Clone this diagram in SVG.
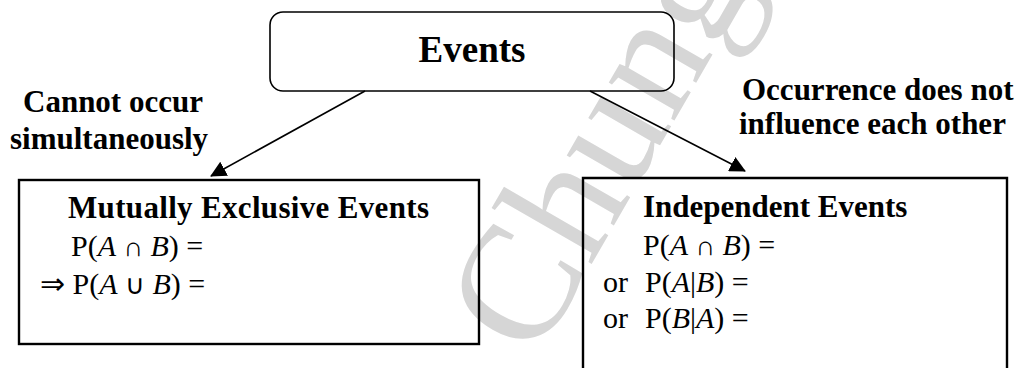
<svg xmlns="http://www.w3.org/2000/svg" width="1021" height="368" viewBox="0 0 1021 368">
<style>
.box{fill:none;stroke:#000;stroke-width:2.4}
.rbox{fill:none;stroke:#000;stroke-width:1.6}
.lbl{font-family:"Liberation Serif","Times New Roman",serif;font-weight:bold;font-size:31px;fill:#000}
.math{font-family:"Liberation Serif","Times New Roman",serif;font-size:30px;fill:#000}
.it{font-style:italic}
.op{font-size:27px}
.wm{font-family:"Liberation Serif","Times New Roman",serif;font-size:165px;fill:#d6d6d6}
.conn{stroke:#000;stroke-width:1.6;fill:none}
</style>
<defs>
<marker id="ah" markerWidth="16" markerHeight="16" refX="15" refY="8" orient="auto" markerUnits="userSpaceOnUse">
<path d="M0,0 L16,8 L0,16 Z" fill="#000"/>
</marker>
</defs>
<rect width="1021" height="368" fill="#fff"/>
<text class="wm" x="535" y="362" transform="rotate(-60 535 362)">Chung</text>
<g id="connectors">
<line class="conn" x1="365" y1="91" x2="211" y2="176" marker-end="url(#ah)"/>
<line class="conn" x1="590" y1="91" x2="745" y2="171" marker-end="url(#ah)"/>
</g>
<g id="events">
<rect class="rbox" x="270" y="12" width="404" height="79" rx="13"/>
<text class="lbl" x="472" y="62" text-anchor="middle" style="font-size:37px">Events</text>
</g>
<g id="label-left">
<text class="lbl" x="23" y="112">Cannot occur</text>
<text class="lbl" x="10" y="149">simultaneously</text>
</g>
<g id="label-right">
<text class="lbl" x="742" y="100">Occurrence does not</text>
<text class="lbl" x="739" y="134">influence each other</text>
</g>
<g id="mutually-exclusive">
<rect class="box" x="19" y="180" width="460" height="164"/>
<text class="lbl" x="68" y="218" textLength="361">Mutually Exclusive Events</text>
<text class="math" x="71" y="256">P(<tspan class="it">A</tspan> <tspan class="op">∩</tspan> <tspan class="it">B</tspan>) =</text>
<text class="math" x="40" y="294">⇒ P(<tspan class="it">A</tspan> <tspan class="op">∪</tspan> <tspan class="it">B</tspan>) =</text>
</g>
<g id="independent">
<path class="box" d="M583,370 V178 H1007 V370"/>
<text class="lbl" x="643" y="217">Independent Events</text>
<text class="math" x="643" y="255">P(<tspan class="it">A</tspan> <tspan class="op">∩</tspan> <tspan class="it">B</tspan>) =</text>
<text class="math" x="603" y="292">or<tspan x="645">P(</tspan><tspan class="it">A</tspan>|<tspan class="it">B</tspan>) =</text>
<text class="math" x="603" y="328">or<tspan x="645">P(</tspan><tspan class="it">B</tspan>|<tspan class="it">A</tspan>) =</text>
</g>
</svg>
